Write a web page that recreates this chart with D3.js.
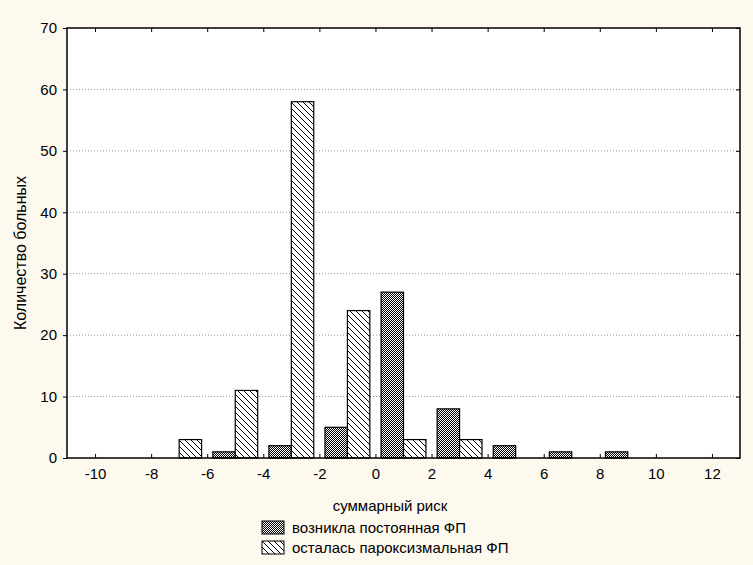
<!DOCTYPE html>
<html lang="ru">
<head>
    <meta charset="UTF-8">
    <title>суммарный риск</title>
    <script src="https://d3js.org/d3.v7.min.js"></script>
    <style>
        body { margin: 0; background: #fdf9ef; }
        text { font-family: "Liberation Sans", Arial, sans-serif; fill: #000; }
    </style>
</head>
<body>
    <div id="chart"></div>
    <script>
        // Data
        const categories = [-7, -5, -3, -1, 1, 3, 5, 7, 9];
        const persistent = [0, 1, 2, 5, 27, 8, 2, 1, 1];   // возникла постоянная ФП
        const paroxysmal = [3, 11, 58, 24, 3, 3, 0, 0, 0]; // осталась пароксизмальная ФП
        const xTicks = [-10, -8, -6, -4, -2, 0, 2, 4, 6, 8, 10, 12];
        const yTicks = [0, 10, 20, 30, 40, 50, 60, 70];
        const seriesNames = ["возникла постоянная ФП", "осталась пароксизмальная ФП"];

        const width = 753, height = 565;
        const margin = {top: 28, right: 13, bottom: 107, left: 67};
        const w = width - margin.left - margin.right;
        const h = height - margin.top - margin.bottom;

        const svg = d3.select("#chart").append("svg")
            .attr("width", width)
            .attr("height", height);

        const defs = svg.append("defs");
        // dense checker pattern for the dark bars
        const pDark = defs.append("pattern")
            .attr("id", "dark")
            .attr("width", 2).attr("height", 2)
            .attr("patternUnits", "userSpaceOnUse");
        pDark.append("rect").attr("width", 2).attr("height", 2).attr("fill", "#fff");
        pDark.append("rect").attr("width", 1).attr("height", 1).attr("fill", "#000");
        pDark.append("rect").attr("x", 1).attr("y", 1).attr("width", 1).attr("height", 1).attr("fill", "#000");
        // backslash hatch
        const pHatch = defs.append("pattern")
            .attr("id", "hatch")
            .attr("width", 6).attr("height", 6)
            .attr("patternUnits", "userSpaceOnUse");
        pHatch.append("rect").attr("width", 6).attr("height", 6).attr("fill", "#fff");
        pHatch.append("path")
            .attr("d", "M-1,-1 L7,7 M-1,5 L1,7 M5,-1 L7,1")
            .attr("stroke", "#000").attr("stroke-width", 1);

        const g = svg.append("g")
            .attr("transform", `translate(${margin.left},${margin.top})`);

        g.append("rect").attr("width", w).attr("height", h).attr("fill", "#fff");

        const x = d3.scaleLinear().domain([-11, 13]).range([0, w]);
        const y = d3.scaleLinear().domain([0, 70]).range([h, 0]);

        // gridlines
        g.selectAll(".grid")
            .data(yTicks.filter(d => d > 0 && d < 70))
            .enter().append("line")
            .attr("x1", 0).attr("x2", w)
            .attr("y1", d => y(d)).attr("y2", d => y(d))
            .attr("stroke", "#999")
            .attr("stroke-dasharray", "1,2");

        // bars
        const barW = x(0.8) - x(0);
        const series = [
            {vals: persistent, fill: "url(#dark)", off: -barW},
            {vals: paroxysmal, fill: "url(#hatch)", off: 0}
        ];
        series.forEach(s => {
            g.selectAll(null)
                .data(categories.map((c, i) => ({c, v: s.vals[i]})).filter(d => d.v > 0))
                .enter().append("rect")
                .attr("x", d => x(d.c) + s.off)
                .attr("y", d => y(d.v))
                .attr("width", barW)
                .attr("height", d => y(0) - y(d.v))
                .attr("fill", s.fill)
                .attr("stroke", "#000")
                .attr("stroke-width", 1.2);
        });

        // axes
        const axisStyle = sel => {
            sel.select(".domain").remove();
            sel.selectAll("line").attr("stroke", "#000");
            sel.selectAll("text").style("font-size", "15px");
        };
        g.append("g")
            .attr("transform", `translate(0,${h})`)
            .call(d3.axisBottom(x).tickValues(xTicks).tickSizeInner(-4).tickPadding(10).tickFormat(d3.format("d")))
            .call(axisStyle)
            .selectAll("text").text(d => String(d).replace("−", "-"));
        g.append("g")
            .call(d3.axisTop(x).tickValues(xTicks).tickSizeInner(-4).tickFormat(""))
            .call(axisStyle);
        g.append("g")
            .call(d3.axisLeft(y).tickValues(yTicks).tickSizeInner(4).tickPadding(6))
            .call(axisStyle);
        g.append("g")
            .attr("transform", `translate(${w},0)`)
            .call(d3.axisRight(y).tickValues(yTicks).tickSizeInner(-4).tickFormat(""))
            .call(axisStyle);

        g.append("rect")
            .attr("width", w).attr("height", h)
            .attr("fill", "none").attr("stroke", "#000").attr("stroke-width", 1.5);

        // axis titles
        svg.append("text")
            .attr("x", 390).attr("y", 511)
            .attr("text-anchor", "middle")
            .style("font-size", "15px")
            .text("суммарный риск");
        svg.append("text")
            .attr("transform", `translate(26,${margin.top + h / 2 + 10}) rotate(-90)`)
            .attr("text-anchor", "middle")
            .style("font-size", "16px")
            .text("Количество больных");

        // legend
        const legend = svg.append("g").attr("transform", "translate(262,521)");
        legend.selectAll("g")
            .data(seriesNames)
            .enter().append("g")
            .attr("transform", (d, i) => `translate(0,${i * 20})`)
            .each(function(d, i) {
                const item = d3.select(this);
                item.append("rect")
                    .attr("width", 22).attr("height", 13)
                    .attr("fill", i === 0 ? "url(#dark)" : "url(#hatch)")
                    .attr("stroke", "#000");
                item.append("text")
                    .attr("x", 30).attr("y", 12)
                    .style("font-size", "15px")
                    .text(d);
            });
    </script>
</body>
</html>
